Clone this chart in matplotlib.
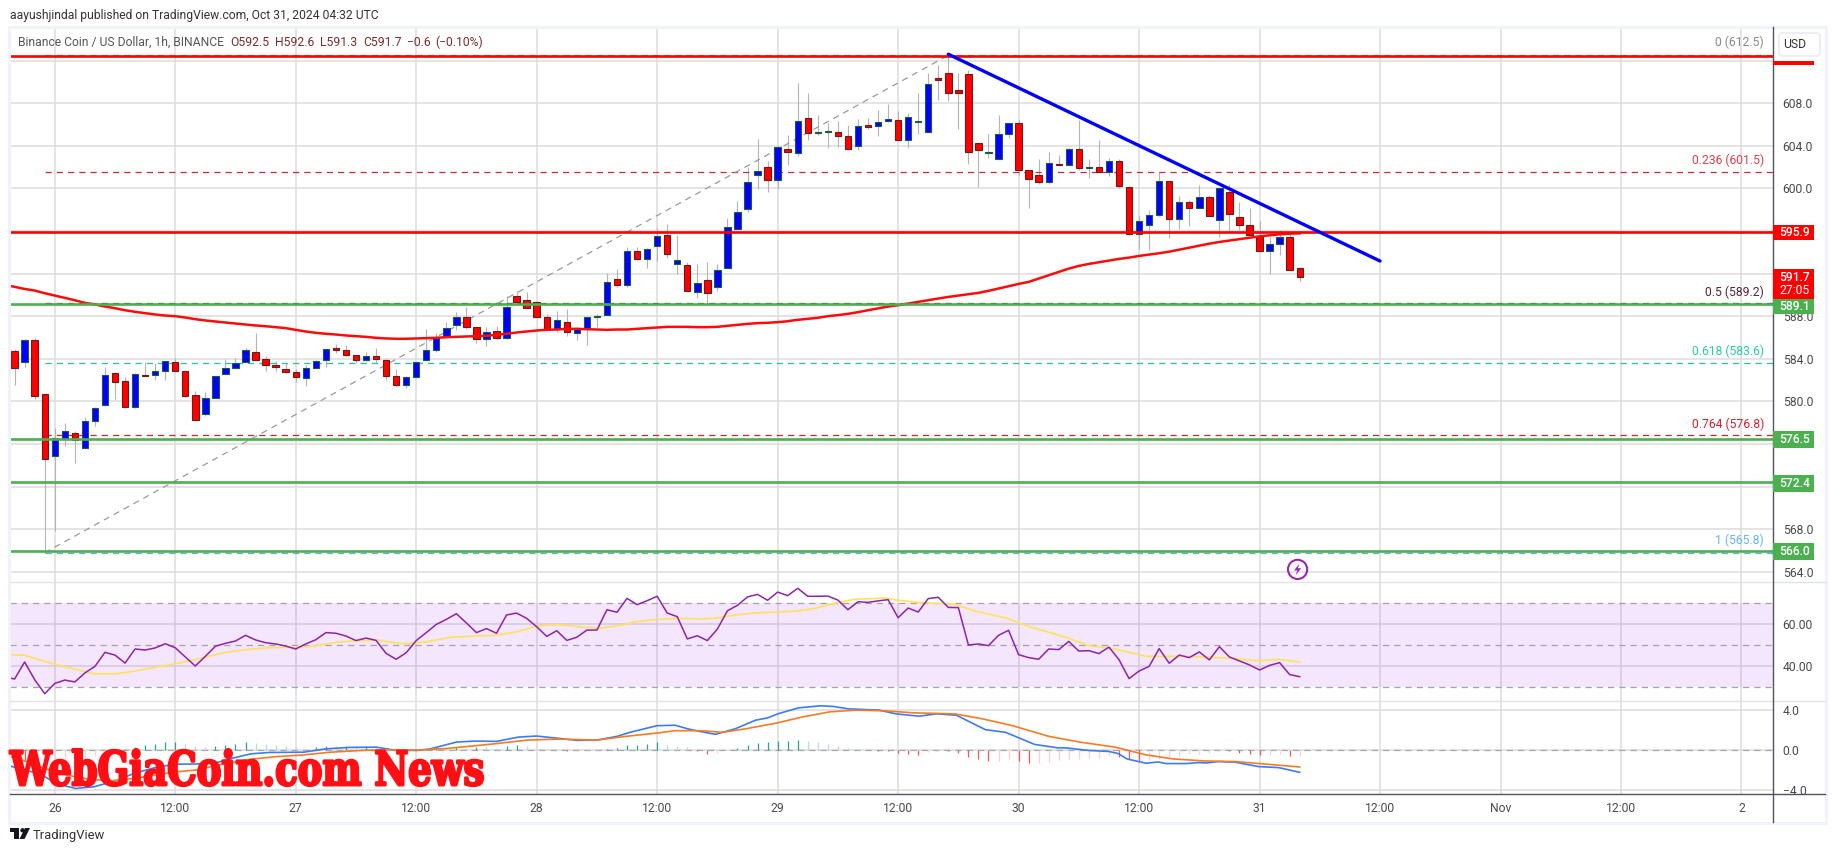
import numpy as np
import matplotlib
matplotlib.use("Agg")
import matplotlib.pyplot as plt
from matplotlib.patches import Rectangle, FancyBboxPatch, Circle, Polygon
from matplotlib.patheffects import AbstractPathEffect
from matplotlib.transforms import Affine2D

W, H = 1835, 857
plt.rcParams['font.family'] = ['Roboto', 'DejaVu Sans']

open_prices = [
584.7,583.7,585.8,580.7,574.9,576.5,577.0,575.6,578.2,579.7,
582.7,581.9,579.5,582.5,582.5,582.9,583.7,582.9,580.6,578.8,
580.3,582.6,583.1,583.7,584.6,584.0,583.4,583.0,582.8,582.2,
583.1,583.9,585.0,584.8,584.4,583.9,584.3,583.9,582.4,581.5,
582.3,583.9,584.8,586.1,587.2,587.9,587.0,585.9,586.6,586.0,
589.9,589.5,589.3,587.9,586.8,587.5,586.4,586.9,587.9,588.1,
591.5,590.9,594.1,593.4,594.6,595.6,592.9,592.8,590.3,591.4,
590.7,592.5,596.2,598.1,601.3,602.0,600.8,603.7,603.3,606.6,
605.2,605.3,605.3,604.9,604.0,606.0,605.9,606.3,606.4,604.5,
606.2,605.3,610.4,610.8,609.2,610.7,604.3,603.3,602.8,605.1,
606.1,601.7,601.3,600.6,602.3,602.2,603.7,601.9,602.0,601.5,
602.6,600.1,595.7,596.6,597.5,600.7,597.1,598.7,598.2,599.2,
597.0,599.7,597.3,596.6,595.5,594.1,594.8,595.4,592.5]
close_prices = [
583.1,585.8,580.5,574.6,576.6,577.2,576.4,578.2,579.4,582.5,
581.8,579.5,582.6,582.4,582.9,583.8,582.9,580.5,578.3,580.3,
582.4,583.1,583.6,584.8,583.9,583.4,583.2,582.8,582.3,583.1,
583.8,584.9,584.8,584.4,583.9,584.3,584.0,582.4,581.5,582.3,
583.7,584.8,586.0,586.9,587.9,587.0,585.9,586.5,586.0,588.9,
589.3,588.8,587.9,586.8,587.6,586.5,586.9,587.9,588.0,591.2,
590.9,594.1,593.4,594.3,595.5,593.8,593.3,590.4,591.1,590.2,
592.3,596.4,597.8,600.6,601.6,600.8,603.9,603.4,606.3,605.2,
605.3,605.4,604.9,603.7,605.9,605.8,606.2,606.5,604.5,606.7,
606.3,609.8,610.2,609.0,609.0,603.4,603.6,603.4,605.1,606.1,
601.7,600.9,600.6,602.4,602.2,603.7,601.9,602.0,601.5,602.6,
600.2,595.7,596.9,597.5,600.7,597.1,598.7,598.2,599.2,597.4,
600.0,597.6,596.6,595.6,594.1,594.8,595.4,592.3,591.7]
high_prices = [
584.9,585.9,586.0,580.7,577.5,578.0,577.2,578.5,579.5,583.2,
582.8,582.3,582.7,583.7,583.6,583.8,584.1,582.9,581.0,580.9,
582.4,584.0,584.1,585.0,586.4,584.3,583.8,583.6,583.0,583.4,
583.9,584.9,585.4,585.3,584.4,584.6,585.0,584.0,583.0,582.4,
583.7,586.8,586.4,587.5,588.4,588.9,587.0,587.0,587.1,589.9,
590.4,590.3,589.4,588.2,588.5,588.7,587.0,587.9,588.2,592.1,
592.4,594.5,594.5,594.4,596.3,596.7,595.6,593.1,592.9,593.1,
592.9,597.2,598.8,602.0,604.6,602.6,604.0,605.0,609.9,609.0,
606.9,606.1,606.3,606.0,606.5,606.6,607.4,607.9,607.3,607.1,
609.0,610.8,611.6,612.5,610.8,611.1,604.3,605.1,606.9,606.1,
606.4,601.7,602.8,603.4,603.1,603.8,606.4,602.8,604.5,602.9,
602.8,600.2,597.4,598.0,601.5,600.7,599.3,598.9,600.3,599.4,
600.0,600.4,598.7,598.2,596.9,595.4,596.1,595.8,592.6]
low_prices = [
581.5,583.2,580.2,565.8,567.8,575.8,574.2,575.6,577.7,579.6,
580.2,579.4,579.4,582.4,582.0,582.0,582.9,580.4,578.3,578.6,
580.3,582.6,583.1,583.7,583.9,582.9,582.9,582.7,581.8,581.4,
583.1,583.2,584.5,584.3,583.6,583.8,583.6,582.0,581.4,581.3,
582.3,583.9,584.6,586.1,586.7,586.8,585.5,585.2,585.9,585.9,
589.1,588.8,587.9,586.8,586.5,586.1,585.8,585.3,587.0,588.1,
590.7,590.7,593.3,592.5,593.2,593.5,592.0,590.4,589.7,589.1,
590.4,592.5,596.2,597.8,599.9,599.7,599.9,602.2,603.0,604.5,
605.0,603.8,603.9,603.7,603.6,605.6,604.9,606.2,604.5,603.8,
605.1,605.3,608.3,608.2,605.6,602.3,600.1,602.9,602.8,604.7,
601.3,598.2,600.4,600.4,602.2,602.2,601.7,601.0,601.5,601.2,
600.0,595.6,594.3,594.2,597.4,595.3,596.2,596.5,598.2,597.4,
595.4,596.0,596.1,595.6,594.1,592.0,593.7,592.3,591.3]

ema200 = [590.95,
590.75,590.56,590.41,590.16,589.94,589.72,589.50,589.25,589.10,588.91,
588.75,588.56,588.41,588.28,588.16,588.06,588.00,587.88,587.72,587.60,
587.50,587.41,587.31,587.22,587.13,587.06,586.97,586.88,586.72,586.56,
586.44,586.35,586.28,586.19,586.13,586.06,585.97,585.91,585.88,585.88,
585.91,585.94,585.97,586.03,586.06,586.10,586.13,586.16,586.25,586.35,
586.47,586.56,586.66,586.72,586.75,586.81,586.81,586.78,586.75,586.72,
586.75,586.75,586.81,586.88,586.94,587.00,587.00,587.00,586.97,586.97,
587.00,587.10,587.19,587.28,587.35,587.38,587.44,587.53,587.66,587.75,
587.85,588.00,588.10,588.22,588.38,588.56,588.75,588.91,589.03,589.19,
589.35,589.50,589.66,589.81,589.94,590.06,590.19,590.38,590.60,590.81,
591.03,591.22,591.53,591.85,592.16,592.47,592.72,592.91,593.06,593.22,
593.38,593.50,593.66,593.78,593.91,594.06,594.25,594.44,594.63,594.81,
594.97,595.10,595.22,595.35,595.50,595.60,595.69,595.75,595.78]

rsi_values = [34.8,
33.8,41.9,33.5,26.8,31.7,33.3,32.4,36.7,39.8,46.5,
45.2,41.4,48.1,47.6,48.6,50.6,48.7,44.3,40.0,44.6,
49.4,50.8,51.9,54.6,52.4,51.1,50.5,49.5,48.1,50.5,
52.5,55.9,55.6,54.3,52.1,53.3,52.2,46.0,43.2,46.3,
52.1,55.9,59.8,62.2,64.9,60.5,55.9,57.8,55.6,64.3,
65.2,62.7,58.7,54.1,56.8,52.2,53.7,57.1,57.1,66.8,
65.6,72.2,69.2,71.1,73.2,65.2,63.5,52.9,54.4,52.1,
57.6,66.3,68.9,72.9,74.1,71.3,75.2,73.5,77.0,73.2,
73.2,73.3,71.4,66.8,70.6,70.3,71.0,71.6,63.0,67.6,
65.7,72.1,72.7,67.9,67.8,50.0,50.5,49.7,54.6,57.0,
45.4,44.0,43.2,48.1,47.8,51.7,47.1,47.3,45.9,49.0,
43.0,34.0,37.6,39.8,48.3,41.3,45.2,44.0,46.7,42.9,
49.2,44.3,42.4,40.5,38.1,40.3,41.6,35.9,34.9]

rsi_ma_bars = [-0.5,1,3,5.2,7.9,10.1,11.9,14.1,16.4,18.6,20.8,23,25.3,28,29.7,32,34.2,36,38.6,40.9,
               43.5,45.8,48,50.2,52,54.2,56.5,58.2,60.5,61.8,64,66.2,68.3,70,71.8,73.6,75.8,78,79.8,81.6,
               83.6,86.7,87.8,90,93.6,95.8,98.7,101.2,104.7,107,109.6,112.7,116.7,120.7,123.9,125.9,128]
rsi_ma_values = [45.4,45.1,42.2,39.4,36.3,36.3,37.5,39.5,41.4,43.7,46.3,47.8,48.7,48.9,49.4,51.3,52.1,52.4,50.6,51.4,
                 53.7,54.3,54.6,56.5,59.0,59.7,58.6,57.9,59.4,61.1,62.2,62.7,62.4,62.9,64.3,65.2,65.7,66.2,67.5,69.8,
                 71.7,72.4,71.4,70.3,69.4,66.0,62.9,58.6,53.7,49.7,48.1,44.6,44.6,43.8,42.5,43.2,41.9]

macd_bars = [-0.5,1.2,3,4.3,6.1,7.9,10.1,11.9,14.1,15.9,18.1,19.9,21.7,23.5,25.3,28.8,31,33.3,36,37.7,
             40,41.3,44,45.8,48,50.2,52,54.2,56,58,60,61.3,64,65.8,67.1,68.4,69.8,71.8,73.8,75,
             76.1,78.1,80.3,81.6,83,86.1,87.8,90.1,91.8,93.8,95,96.7,98.7,101.6,103.9,104.7,107,109,109.9,110.8,
             112.7,113.9,114.7,116.7,117.9,118.7,119.9,121.6,123.9,125.9,128]
macd_values = [-1.57,-1.97,-2.63,-3.37,-3.80,-3.63,-3.03,-2.30,-1.70,-1.40,-1.37,-1.30,-0.80,-0.37,-0.23,-0.20,0.13,0.27,0.30,0.03,
               -0.03,0.10,0.80,0.90,0.87,1.30,1.40,1.17,0.97,1.00,1.37,1.77,2.43,2.47,2.10,1.83,1.57,2.13,2.97,3.20,
               3.63,4.20,4.40,4.33,4.10,3.97,3.60,3.37,3.60,3.47,2.87,2.03,1.77,0.57,0.23,0.23,-0.03,-0.13,-0.33,-0.87,
               -1.30,-1.17,-1.33,-1.33,-1.23,-1.27,-1.13,-1.20,-1.63,-1.73,-2.20]
signal_bars = [-0.5,1.2,3,5.2,7.5,9.7,11.9,15.9,18.1,20.8,23.5,26.2,28.8,31.5,35.1,37.7,40,43.1,47.5,51.1,
               54.2,58,60.9,64,65.8,68.4,70.5,72.7,75.8,78.5,81.2,83.8,86.7,89.6,93.6,96.3,99.4,103,106.1,109.6,
               112.7,115.4,118.5,121.6,128]
signal_values = [-0.63,-1.13,-1.80,-2.47,-2.90,-3.03,-2.80,-2.17,-1.97,-1.37,-0.90,-0.63,-0.47,-0.20,0.0,0.03,0.0,0.17,0.60,1.00,
                 1.10,1.00,1.37,1.70,1.93,1.93,1.77,2.10,2.67,3.30,3.80,3.97,3.90,3.70,3.60,3.13,2.43,1.37,0.80,0.30,
                 -0.47,-0.87,-1.07,-1.13,-1.67]
hist_values = [
-1.0,-1.1,-1.3,-1.5,-1.4,-1.3,-1.1,-.8,-.6,-.3,
.05,.1,.33,.53,.63,.77,.83,.63,.43,.33,
.4,.53,.63,.77,.73,.63,.53,.43,.27,.1,
.3,.43,.37,.43,.37,.37,.2,.1,.03,-.13,
-.03,.03,.27,.2,.3,.17,.3,.27,.17,.37,
.47,.37,.13,.07,.03,-.13,-.13,-.07,-.07,.13,
.23,.5,.53,.63,.77,.53,.43,.3,-.13,-.37,
-.33,0,.2,.53,.73,.83,.93,.93,1.0,.9,
.8,.63,.43,.2,.07,.03,-.07,-.13,-.33,-.37,
-.47,-.23,-.1,-.13,-.27,-.67,-.87,-1.07,-1.03,-.87,
-1.07,-1.23,-1.23,-1.13,-1.0,-.87,-.87,-.77,-.77,-.47,
-.67,-.87,-1.1,-.97,-.83,-.7,-.57,-.43,-.37,-.33,
-.1,-.13,-.27,-.4,-.47,-.47,-.37,-.53,-.53]

price_ticks = [564,568,572,576,580,584,588,592,596,600,604,608,612]
price_labels = ['564.0','568.0','','','580.0','584.0','588.0','','','600.0','604.0','608.0','']
time_labels = ['26','12:00','27','12:00','28','12:00','29','12:00','30','12:00','31','12:00','Nov','12:00','2']
time_ticks = [4 + 12 * k for k in range(len(time_labels))]

resistance_levels = [612.43, 595.9]
support_levels = [589.1, 576.5, 572.4, 566.0]
fib_levels = [612.5, 601.5, 589.2, 583.6, 576.8, 565.8]
fib_colors = ['#9a9a9a', '#c2303c', '#5d1f3a', '#22c79a', '#e0202f', '#5fb0e6']
fib_text = ['0 (612.5)', '0.236 (601.5)', '0.5 (589.2)', '0.618 (583.6)', '0.764 (576.8)', '1 (565.8)']
fib_text_colors = ['#8a8a8a', '#e0404c', '#5d1f3a', '#27cfa0', '#d8202f', '#64b5f6']
fib_anchor_bars = [3, 93]
fib_anchor_prices = [565.8, 612.5]
trend_bars = [93, 136]
trend_prices = [612.6, 593.18]

BLUE, RED = '#0000ff', '#ff0000'
GRID = '#dcdcdc'
AXC = '#50535e'
X0, X1 = 10, 1773
FS = 8.7


class Squeeze(AbstractPathEffect):
    """Draw the glyphs narrower and taller about a pixel anchor, with a thick outline."""
    def __init__(self, sx, sy, x0, y0, stroke):
        super().__init__()
        self.t = Affine2D().translate(-x0, -y0).scale(sx, sy).translate(x0, y0)
        self.stroke = stroke

    def draw_path(self, renderer, gc, tpath, affine, rgbFace=None):
        gc0 = renderer.new_gc()
        gc0.copy_properties(gc)
        gc0.set_linewidth(self.stroke)
        gc0.set_foreground(rgbFace)
        renderer.draw_path(gc0, tpath, affine + self.t, rgbFace)
        gc0.restore()


fig = plt.figure(figsize=(W / 100, H / 100), dpi=100, facecolor='white')


def panel(top, bottom):
    return fig.add_axes([X0 / W, 1 - bottom / H, (X1 - X0) / W, (bottom - top) / H])


xlim = ((X0 - 14.6) / 10.04, (X1 - 14.6) / 10.04)
main = panel(27, 582)
rsi = panel(582, 701)
macd = panel(701, 794)

for ax in (main, rsi, macd):
    ax.set_xlim(*xlim)
    ax.set_xticks(time_ticks)
    ax.grid(True, color=GRID, lw=1.1)
    ax.set_axisbelow(True)
    ax.yaxis.tick_right()
    ax.tick_params(axis='both', length=0, labelsize=FS, colors='#4a4a4a', pad=7)
    for s in ax.spines.values():
        s.set_visible(False)
    ax.set_xticklabels([])
    ax.patch.set_alpha(0)

# main panel
main.set_ylim(608 - (582 - 103.2) / 10.65, 608 + (103.2 - 27) / 10.65)
main.set_yticks(price_ticks)
main.set_yticklabels(price_labels)

bars = np.arange(len(open_prices))
o, h, l, c = map(np.array, (open_prices, high_prices, low_prices, close_prices))
up = c >= o
main.vlines(bars, l, h, color='#b4b4b4', lw=0.8, zorder=2)
main.bar(bars[up], np.maximum(c[up] - o[up], 0.12), bottom=o[up], width=0.64, color=BLUE,
         edgecolor='#1c5c3c', lw=0.8, zorder=3)
main.bar(bars[~up], np.maximum(o[~up] - c[~up], 0.12), bottom=c[~up], width=0.64, color=RED,
         edgecolor='#6e1a1a', lw=0.8, zorder=3)
main.plot(np.arange(-1, len(ema200) - 1), ema200, color='#ff0a0a', lw=1.8, zorder=4)

for lev, col in zip(fib_levels, fib_colors):
    main.hlines(lev, fib_anchor_bars[0], xlim[1], color=col, lw=0.9, linestyles=(0, (5, 4)), zorder=2.5)
main.plot(fib_anchor_bars, fib_anchor_prices, color='#9a9a9a', lw=0.9, ls=(0, (5, 4)), zorder=2.5)
for lev in resistance_levels:
    main.axhline(lev, color='#ff0000', lw=1.9, zorder=5)
for lev in support_levels:
    main.axhline(lev, color='#4caf50', lw=1.9, zorder=5)
main.plot(trend_bars, trend_prices, color=BLUE, lw=2.4, zorder=6, solid_capstyle='round')

# RSI panel
rsi.set_ylim(23.33, 80)
rsi.set_yticks([40, 60])
rsi.set_yticklabels(['40.00', '60.00'])
rsi.axhspan(30, 70, color='#a020f0', alpha=0.11, lw=0, zorder=1)
for lev in (30, 50, 70):
    rsi.axhline(lev, color='#a8a0ae', lw=0.9, ls=(0, (5, 4)), zorder=1.5)
rsi.plot(rsi_ma_bars, rsi_ma_values, color='#fde35c', lw=1.2, zorder=3)
rsi.plot(np.arange(-1, len(rsi_values) - 1), rsi_values, color='#8e24aa', lw=1.1, zorder=4)

# MACD panel
macd.set_ylim(-4.348, 4.876)
macd.set_yticks([-4, 0, 4])
macd.set_yticklabels(['\u22124.0', '0.0', '4.0'])
macd.axhline(0, color='#a8a8a8', lw=0.9, ls=(0, (5, 4)), zorder=1.5)
hv = np.array(hist_values)
prev = np.concatenate(([hv[0]], hv[:-1]))
cols = np.where(hv >= 0, np.where(hv >= prev, '#26a69a', '#b2dfdb'),
                np.where(hv < prev, '#ff5252', '#ffcdd2'))
macd.vlines(np.arange(len(hv)), 0, hv, colors=cols, lw=0.9, zorder=2)
macd.plot(macd_bars, macd_values, color='#3d7bf5', lw=1.2, zorder=3)
macd.plot(signal_bars, signal_values, color='#f57c24', lw=1.2, zorder=4)
macd.set_xticklabels(time_labels)
macd.tick_params(axis='x', pad=6)

# overlay in pixel coordinates (chrome, tags, captions)
ov = fig.add_axes([0, 0, 1, 1], zorder=10)
ov.set_xlim(0, W)
ov.set_ylim(H, 0)
ov.axis('off')
ov.patch.set_alpha(0)

ov.add_patch(Rectangle((9, 26.5), 1817, 796.5, fill=False, ec='#f0f3fa', lw=2.2))
ov.plot([X0, 1825], [582, 582], color='#e0e3eb', lw=1)
ov.plot([X0, 1825], [701.3, 701.3], color='#e0e3eb', lw=1)
ov.plot([X1, X1], [27, 822], color=AXC, lw=1)
ov.plot([X0, 1825], [794, 794], color=AXC, lw=1)

ov.text(10, 15, 'aayushjindal published on TradingView.com, Oct 31, 2024 04:32 UTC',
        fontsize=FS, color='#333333', va='center', ha='left')
ov.text(18, 42, 'Binance Coin / US Dollar, 1h, BINANCE', fontsize=FS, color='#555555', va='center')
for tx, s in zip([230.5, 275, 320, 363, 407, 435],
                 ['O592.5', 'H592.6', 'L591.3', 'C591.7', '\u22120.6', '(\u22120.10%)']):
    ov.text(tx, 42, s, fontsize=FS, color='#7b2b2b', va='center')

for s, col, y in zip(fib_text, fib_text_colors, [42.7, 160, 292, 351, 424, 540.5]):
    ov.text(1764, y, s, color=col, fontsize=FS, va='center', ha='right')

tags = [(224.6, 240.4, '#ff0000', '595.9'), (298.5, 313.6, '#4caf50', '589.1'), (431, 448, '#4caf50', '576.5'),
        (475, 492, '#4caf50', '572.4'), (543, 560, '#4caf50', '566.0')]
for y0, y1, col, s in tags:
    ov.add_patch(Rectangle((X1, y0), 41, y1 - y0, fc=col, ec='none', zorder=3))
    ov.text(1795, (y0 + y1) / 2 + 0.3, s, color='white', fontsize=FS, ha='center', va='center', fontweight='medium', zorder=4)
ov.add_patch(Rectangle((X1, 269), 41, 29.5, fc='#ff0000', ec='none', zorder=3))
ov.text(1795, 277.5, '591.7', color='white', fontsize=FS, ha='center', va='center', fontweight='medium', zorder=4)
ov.text(1795, 291, '27:05', color='white', fontsize=FS, ha='center', va='center', zorder=4)
ov.add_patch(Rectangle((X1, 61.3), 41, 3.2, fc='#ff0000', ec='none', zorder=3))

ov.add_patch(FancyBboxPatch((1779, 33), 41, 23, boxstyle='round,pad=0,rounding_size=4', fc='white', ec='#eceef3', lw=1.4, zorder=3))
ov.text(1795, 44, 'USD', fontsize=FS, color='#333333', ha='center', va='center', zorder=4)

ov.add_patch(Circle((1297.6, 569.4), 9.6, fill=False, ec='#9c27b0', lw=1.5))
ov.add_patch(Polygon([(1299.5, 563.5), (1294, 570.5), (1297.3, 570.5), (1295.7, 575.3), (1301.2, 568.2), (1297.9, 568.2)],
                     closed=True, fc='#9c27b0', ec='none'))

wm = ov.text(10, 772, 'WebGiaCoin.com News', color='#ff0f14', family='DejaVu Serif', stretch='condensed',
             fontweight='bold', fontsize=31, va='center', ha='left', zorder=8)
wm.set_path_effects([Squeeze(0.955, 1.1, 10, H - 772, 1.8)])

# TradingView mark
ov.add_patch(Rectangle((10, 828), 9, 4, fc='#131722', ec='none'))
ov.add_patch(Rectangle((14, 828), 5, 11, fc='#131722', ec='none'))
ov.add_patch(Circle((22.5, 830.3), 2.2, fc='#131722', ec='none'))
ov.add_patch(Polygon([(19.5, 839), (25, 828), (30, 828), (24.5, 839)], closed=True, fc='#131722', ec='none'))
ov.text(33, 835, 'TradingView', fontsize=9.4, color='#333333', va='center', ha='left')

fig.savefig('out.png', dpi=100, facecolor='white')
